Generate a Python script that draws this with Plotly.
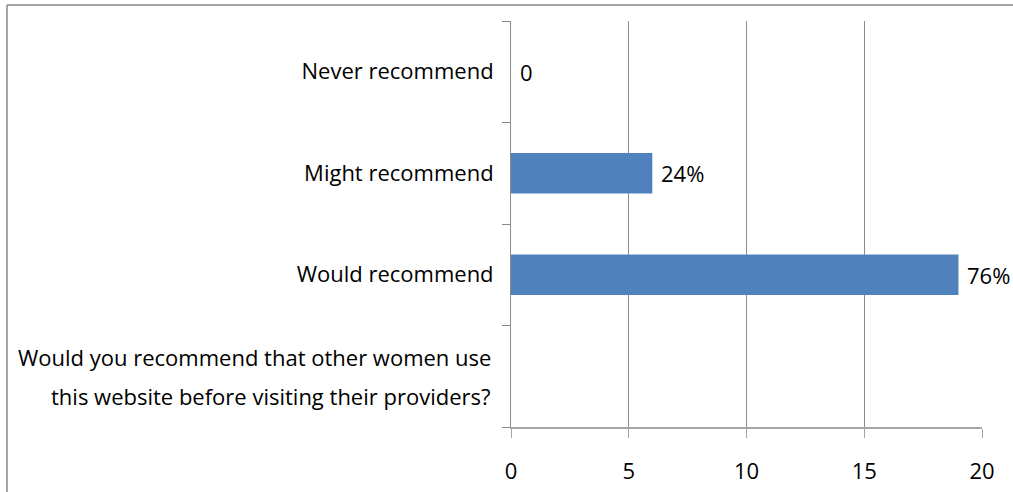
import plotly.graph_objects as go

categories = [
    "Would you recommend that other women use this website before visiting their providers?",
    "Would recommend",
    "Might recommend",
    "Never recommend",
]
question_lines = [
    "Would you recommend that other women use",
    "this website before visiting their providers?",
]
values = [None, 19, 6, 0]
labels = ["", "76%", "24%", "0"]
tick_text = ["", "Would recommend", "Might recommend", "Never recommend"]
x_ticks = [0, 5, 10, 15, 20]

FONT = "Open Sans"
FS = 22
W, H = 1013, 492
L, R, T, B = 511, 982, 21, 427

fig = go.Figure()
fig.add_trace(go.Bar(
    x=values, y=categories, orientation="h",
    marker=dict(color="#4f81bd", line=dict(width=0)),
    hoverinfo="skip",
))

for c, v, t in zip(categories, values, labels):
    if v is None:
        continue
    fig.add_annotation(x=v, y=c, text=t, showarrow=False, xanchor="left",
                       xshift=7, font=dict(family=FONT, size=FS, color="#000000"))

# two-line question label on the axis (wider line spacing than plotly's default)
for line, shift in zip(question_lines, [19, -20]):
    fig.add_annotation(x=0, xref="paper", y=categories[0], yref="y", text=line,
                       showarrow=False, xanchor="right", yanchor="middle",
                       xshift=-18, yshift=shift,
                       font=dict(family=FONT, size=FS, color="#000000"))

# outer chart border (left and top)
px = lambda p: (p - L) / (R - L)
py = lambda p: (B - p) / (B - T)
fig.add_shape(type="line", xref="paper", yref="paper", x0=px(7), x1=px(W + 10), y0=py(5), y1=py(5),
              line=dict(color="#878787", width=1.5))
fig.add_shape(type="line", xref="paper", yref="paper", x0=px(7), x1=px(7), y0=py(5), y1=py(H + 10),
              line=dict(color="#878787", width=1.5))

fig.update_layout(
    width=W, height=H,
    margin=dict(l=L, r=W - R, t=T, b=H - B, pad=0, autoexpand=False),
    paper_bgcolor="white", plot_bgcolor="white",
    bargap=0.6, showlegend=False,
    font=dict(family=FONT, size=FS, color="#000000"),
    xaxis=dict(
        range=[0, 20], tickvals=x_ticks, ticktext=[str(v) for v in x_ticks],
        showgrid=True, gridcolor="#8c8c8c", gridwidth=1, automargin=False,
        zeroline=False, showline=True, linecolor="#a6a6a6", linewidth=1.5,
        ticks="outside", ticklen=9, tickcolor="#a6a6a6", tickwidth=1,
        ticklabelstandoff=15, fixedrange=True,
    ),
    yaxis=dict(
        type="category", categoryorder="array", categoryarray=categories,
        tickvals=categories, ticktext=tick_text, automargin=False,
        tickson="boundaries", ticks="outside", ticklen=8, tickcolor="#8c8c8c",
        showgrid=False, zeroline=False, showline=True, linecolor="#8c8c8c", linewidth=1,
        ticklabelstandoff=12, fixedrange=True,
    ),
)

fig.write_html(
    "out.html",
    config={"displayModeBar": False},
    post_script="document.body.style.margin='0';document.body.style.overflow='hidden';",
)
